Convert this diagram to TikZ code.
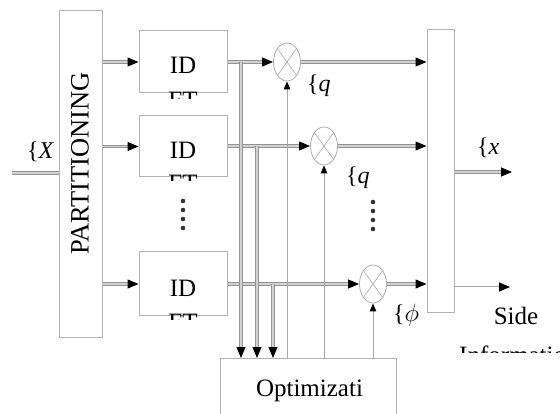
\documentclass[tikz,border=0pt]{standalone}
\usepackage{fontspec}
\setmainfont{Liberation Serif}
\usetikzlibrary{arrows.meta,shapes.geometric}
\tikzset{
  blk/.style={draw=gray!60, line width=1pt, inner sep=0pt, fill=white},
  mult/.style={ellipse, draw=gray!60, line width=0.9pt, inner sep=0pt, minimum width=27pt, minimum height=38pt},
  dline/.style={draw=gray!85, double=gray!35, double distance=1.6pt, line width=1pt},
  sline/.style={draw=gray!70, line width=1pt},
  tip/.style={-{Triangle[length=11pt,width=9pt,black]}},
  stip/.style={-{Triangle[length=8pt,width=6.5pt,black]}},
  lbl/.style={inner sep=0pt, font=\fontsize{25}{30}\selectfont},
  mlbl/.style={inner sep=0pt, font=\fontsize{24}{28}\selectfont},
}
\begin{document}
\begin{tikzpicture}[x=1pt,y=-1pt]
\useasboundingbox (0,0) rectangle (560,414);
% blocks
\node[blk, minimum width=43pt, minimum height=326pt] (part) at (80.5,174) {};
\node[blk, minimum width=88pt, minimum height=62pt] (idft1) at (183,62) {};
\node[blk, minimum width=88pt, minimum height=61pt] (idft2) at (183,146.5) {};
\node[blk, minimum width=88pt, minimum height=64pt] (idft3) at (183,284) {};
\node[mult] (m1) at (287,62) {};
\node[mult] (m2) at (324,146) {};
\node[mult] (m3) at (373,284) {};
\node[blk, minimum width=27pt, minimum height=283pt] (comb) at (440.5,171.5) {};
\node[blk, minimum width=176pt, minimum height=80pt, anchor=north] (opt) at (308,358) {};
% crosses in multipliers
\foreach \m in {m1,m2,m3}{
  \draw[draw=gray!60, line width=0.7pt] (\m.north west) -- (\m.south east);
  \draw[draw=gray!60, line width=0.7pt] (\m.north east) -- (\m.south west);
}
% texts
\node[lbl, rotate=90, font=\fontsize{26.5}{30}\selectfont] (ptxt) at (80,163.5) {PARTITIONING};
\node[lbl, anchor=base] (id1) at (183,74) {ID};
\node[lbl, anchor=base] (id2) at (183,159) {ID};
\node[lbl, anchor=base] (id3) at (183,297) {ID};
\begin{scope}
  \clip (130,0) rectangle (240,98.5);
  \node[lbl, anchor=north] (ft1) at (183,92) {FT};
\end{scope}
\begin{scope}
  \clip (130,100) rectangle (240,181);
  \node[lbl, anchor=north] (ft2) at (183,175) {FT};
\end{scope}
\begin{scope}
  \clip (130,250) rectangle (240,319.5);
  \node[lbl, anchor=north] (ft3) at (183,313.5) {FT};
\end{scope}
\node[lbl, anchor=base] (side) at (516,325) {Side};
\begin{scope}
  \clip (440,330) rectangle (560,352);
  \node[lbl, anchor=north west] (info) at (459,346) {Information};
\end{scope}
\node[lbl, anchor=base] (otxt) at (309.5,396) {Optimizati};
% math labels
\node[mlbl, anchor=west] (lx) at (27,152) {\{\textit{X}};
\node[mlbl, anchor=west] (lq1) at (307,86) {\{\textit{q}};
\node[mlbl, anchor=west] (lq2) at (346,178) {\{\textit{q}};
\node[mlbl, anchor=west] (lphi) at (393,315) {\{$\phi$};
\node[mlbl, anchor=west] (lxo) at (477,148) {\{\textit{x}};
% dots
\foreach \yy in {201,210,219,228}{
  \fill[black!80] (183,\yy) circle (2.3pt);
  \fill[black!80] (373,\yy+1) circle (2.3pt);
}
% input
\coordinate (in) at (12,173);
\draw[dline] (in) -- (in -| part.west);
% partition -> idft
\draw[dline,tip] (part.east |- idft1.west) -- (idft1.west);
\draw[dline,tip] (part.east |- idft2.west) -- (idft2.west);
\draw[dline,tip] (part.east |- idft3.west) -- (idft3.west);
% idft -> multipliers
\draw[dline,tip] (idft1.east) -- (m1.west);
\draw[dline,tip] (idft2.east |- m2.west) -- (m2.west);
\draw[dline,tip] (idft3.east) -- (m3.west);
% taps down to optimization
\coordinate (t1) at (241,62);
\coordinate (t2) at (257,146);
\coordinate (t3) at (273,284);
\draw[dline,tip] (t1) -- (t1 |- opt.north);
\draw[dline,tip] (t2) -- (t2 |- opt.north);
\draw[dline,tip] (t3) -- (t3 |- opt.north);
% optimization -> multipliers
\draw[sline,stip] (m1 |- opt.north) -- (m1.south);
\draw[sline,stip] (m2 |- opt.north) -- (m2.south);
\draw[sline,stip] (m3 |- opt.north) -- (m3.south);
% multipliers -> combiner
\draw[dline,tip] (m1.east) -- (m1.east -| comb.west);
\draw[dline,tip] (m2.east) -- (m2.east -| comb.west);
\draw[dline,tip] (m3.east) -- (m3.east -| comb.west);
% outputs
\coordinate (out) at (512,172);
\draw[dline,tip] (comb.east |- out) -- (out);
\coordinate (sideo) at (510,287);
\draw[sline,tip] (comb.east |- sideo) -- (sideo);
\end{tikzpicture}
\end{document}
